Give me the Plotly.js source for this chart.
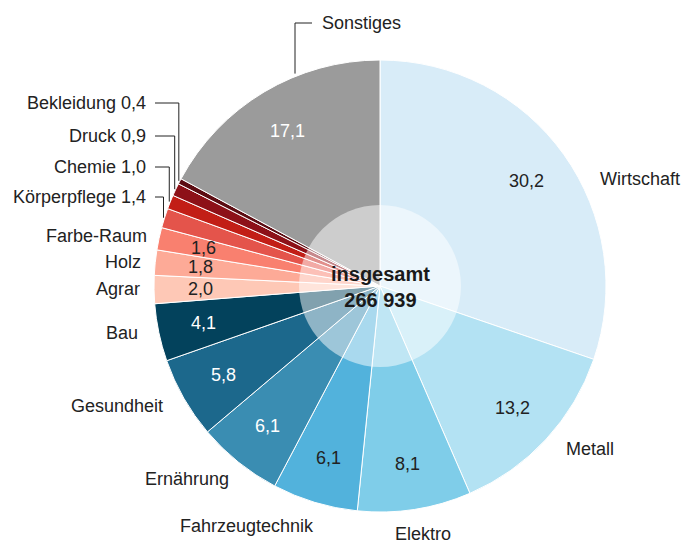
<!DOCTYPE html>
<html>
<head>
<meta charset="utf-8">
<script src="https://cdn.plot.ly/plotly-3.0.1.min.js"></script>
<style>html,body{margin:0;padding:0;background:#fff;}#chart{width:682px;height:543px;}</style>
</head>
<body>
<div id="chart"></div>
<script>
// ---- data ----
const categories = ["Wirtschaft","Metall","Elektro","Fahrzeugtechnik","Ernährung","Gesundheit","Bau","Agrar","Holz","Farbe-Raum","Körperpflege","Chemie","Druck","Bekleidung","Sonstiges"];
const shares = [30.2,13.2,8.1,6.1,6.1,5.8,4.1,2.0,1.8,1.6,1.4,1.0,0.9,0.4,17.1];
const totalLabel = "insgesamt";
const total = 266939;

// ---- style ----
const colors = ["#d8ecf8","#b3e2f3","#7fcde9","#52b2dc","#3a8db2","#1c688c","#03425c","#fec8b6","#fdaa97","#f9806f","#e4544b","#c21e16","#8d1118","#5c0c12","#9b9b9b"];
const valueColors = ["#222","#222","#222","#222","#fff","#fff","#fff","#222","#222","#222","#222","#222","#222","#222","#fff"];
const FONT = "Liberation Sans, Arial, Helvetica, sans-serif";
const W = 682, H = 543;
const L = 154, T = 60, PW = 452, PH = 452;
const CX = L + PW/2, CY = T + PH/2, R = PW/2;
// label placement (pixels): [x, y, xanchor]
const labelPos = [
  [598,179,"left"],[564,449,"left"],[393,534,"left"],[178,526,"left"],[143,479,"left"],
  [69,406,"left"],[140,333,"right"],[142,289,"right"],[143,262,"right"],[149,236,"right"],
  [148,197,"right"],[148,167,"right"],[148,136,"right"],[148,103,"right"],[320,23,"left"]
];
// leader lines: index -> position within slice (0..1)
const leaders = {10:0.5, 11:0.5, 12:0.5, 13:0.5};
const sonstLeader = {idx:14, x:295};
const valueRadius = 180;
const smallLimit = 1.5;

function fmt(v){ return v.toFixed(1).replace(".", ","); }
function fmtInt(v){ return String(v).replace(/\B(?=(\d{3})+(?!\d))/g, " "); }
function px(x){ return (x - L)/PW; }
function py(y){ return (T + PH - y)/PH; }

const sum = shares.reduce((a,b)=>a+b,0);
const cum = [];
let acc = 0;
shares.forEach(v=>{ cum.push(acc); acc += v; });
function angleAt(i, f){ return (cum[i] + shares[i]*f)/sum * 2*Math.PI; }
function pointAt(ang, r){ return [CX + r*Math.sin(ang), CY - r*Math.cos(ang)]; }

const annotations = [];
const shapes = [];

shares.forEach((v,i)=>{
  const small = v < smallLimit;
  if(!small){
    const p = pointAt(angleAt(i,0.5), valueRadius);
    annotations.push({xref:"paper",yref:"paper",x:px(p[0]),y:py(p[1]),text:fmt(v),showarrow:false,
      xanchor:"center",yanchor:"middle",font:{family:FONT,size:18,color:valueColors[i]}});
  }
  const lp = labelPos[i];
  annotations.push({xref:"paper",yref:"paper",x:px(lp[0]),y:py(lp[1]),
    text: small ? categories[i] + " " + fmt(v) : categories[i],
    showarrow:false,xanchor:lp[2],yanchor:"middle",font:{family:FONT,size:18,color:"#222"}});
});

// leader lines for small slices
Object.keys(leaders).forEach(k=>{
  const i = +k;
  const p = pointAt(angleAt(i, leaders[k]), R + 1);
  const lp = labelPos[i];
  const x0 = lp[0] + 7;
  shapes.push({type:"path",xref:"paper",yref:"paper",
    path:`M ${px(x0)} ${py(lp[1])} L ${px(p[0])} ${py(lp[1])} L ${px(p[0])} ${py(p[1])}`,
    line:{color:"#222",width:1}});
});
// Sonstiges leader
(function(){
  const i = sonstLeader.idx, lp = labelPos[i];
  const x = sonstLeader.x;
  const yEdge = CY - Math.sqrt(R*R - (x-CX)*(x-CX)) - 3;
  shapes.push({type:"path",xref:"paper",yref:"paper",
    path:`M ${px(x)} ${py(yEdge)} L ${px(x)} ${py(lp[1])} L ${px(lp[0]-8)} ${py(lp[1])}`,
    line:{color:"#222",width:1}});
})();

// center overlay circle
const HR = 81;
shapes.push({type:"circle",xref:"paper",yref:"paper",layer:"above",
  x0:px(CX-HR),x1:px(CX+HR),y0:py(CY+HR),y1:py(CY-HR),
  fillcolor:"rgba(255,255,255,0.5)",line:{width:0}});

annotations.push({xref:"paper",yref:"paper",x:px(CX),y:py(CY+1),
  text:"<b>"+totalLabel+"<br>"+fmtInt(total)+"</b>",showarrow:false,
  xanchor:"center",yanchor:"middle",font:{family:FONT,size:20,color:"#1a1a1a"}});

const trace = {
  type:"pie", values:shares, labels:categories, sort:false, direction:"clockwise", rotation:0,
  marker:{colors:colors, line:{color:"#fff", width:1}},
  textinfo:"none", hoverinfo:"skip", showlegend:false
};

const layout = {
  width:W, height:H, margin:{l:L, r:W-L-PW, t:T, b:H-T-PH, pad:0},
  paper_bgcolor:"#fff", plot_bgcolor:"#fff", showlegend:false,
  annotations:annotations, shapes:shapes, font:{family:FONT}
};

Plotly.newPlot("chart",[trace],layout,{displayModeBar:false,staticPlot:true});
</script>
</body>
</html>
